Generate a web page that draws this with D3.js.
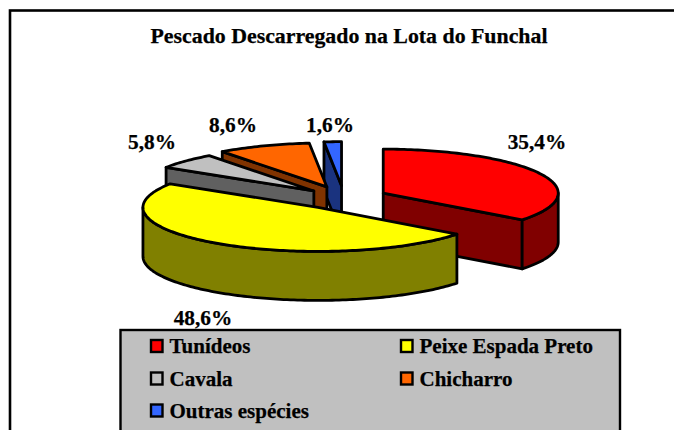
<!DOCTYPE html>
<html><head><meta charset="utf-8">
<script src="https://cdn.jsdelivr.net/npm/d3@7"></script>
<style>html,body{margin:0;padding:0;background:#fff}svg{display:block}text{font-family:"Liberation Serif",serif;font-weight:bold;fill:#000;stroke:#000;stroke-width:.25}</style>
</head><body><script>
const categories=["Tunídeos","Peixe Espada Preto","Cavala","Chicharro","Outras espécies"];
const values=[35.4,48.6,5.8,8.6,1.6];
const valueLabels=["35,4%","48,6%","5,8%","8,6%","1,6%"];
const topColors=["#ff0000","#ffff00","#c0c0c0","#ff6600","#3366ff"];
const sideColors=["#800000","#808000","#606060","#803300","#1a337f"];
const explosions=[0.25,0.26,0.235,0.27,0.28];
const titleText="Pescado Descarregado na Lota do Funchal";

const W=674,H=430;
const cx=344,cy=198,rx=175,ry=44,depth=49;
const svg=d3.select("body").append("svg").attr("width",W).attr("height",H);
// frame
svg.append("rect").attr("x",10).attr("y",10.5).attr("width",W+20).attr("height",H+20).attr("fill","#fff").attr("stroke","#000").attr("stroke-width",2.6);
svg.append("text").attr("x",349).attr("y",43).attr("text-anchor","middle").attr("font-size",22).attr("textLength",397).attr("lengthAdjust","spacingAndGlyphs").text(titleText);

const arcs=d3.pie().sort(null).value(d=>d)(values);
const sx=d3.scaleLinear().domain([-1,1]).range([-rx,rx]);
const sy=d3.scaleLinear().domain([-1,1]).range([ry,-ry]);
const line=d3.line();
function pt(c,a,dy=0){return [c[0]+sx(Math.sin(a)),c[1]+sy(Math.cos(a))+dy];}
function arcPts(c,a0,a1,dy=0){const n=Math.max(2,Math.ceil((a1-a0)/0.02));return d3.range(n+1).map(i=>pt(c,a0+(a1-a0)*i/n,dy));}
const centres=arcs.map((d,i)=>{const m=(d.startAngle+d.endAngle)/2;return [cx+explosions[i]*sx(Math.sin(m)),cy+explosions[i]*sy(Math.cos(m))];});
const g=svg.append("g").attr("stroke","#000").attr("stroke-width",2.8).attr("stroke-linejoin","round");
const order=[4,3,2,0,1];
order.forEach(i=>{
  const d=arcs[i],c=centres[i],a0=d.startAngle,a1=d.endAngle;
  const side=sideColors[i];
  function radial(a){const p=pt(c,a);
    g.append("path").attr("fill",side).attr("d",line([c,p,[p[0],p[1]+depth],[c[0],c[1]+depth]])+"Z");}
  // radial faces that look toward the viewer
  if(i===0||i===2||i===3||i===4)radial(i===0?a1:a0);
  // outer wall
  const f0=Math.max(a0,Math.PI/2),f1=Math.min(a1,Math.PI*1.5);
  if(f1>f0)g.append("path").attr("fill",side).attr("d",line(arcPts(c,f0,f1).concat(arcPts(c,f0,f1,depth).reverse()))+"Z");
  // top
  g.append("path").attr("fill",topColors[i]).attr("d",line([c].concat(arcPts(c,a0,a1)))+"Z");
});
// value labels
const labelAnchors=[[537,149],[203,325],[152,149],[233,132],[330,132]];
svg.selectAll("text.v").data(valueLabels).join("text").attr("class","v").attr("text-anchor","middle").attr("font-size",21.3)
  .attr("x",(d,i)=>labelAnchors[i][0]).attr("y",(d,i)=>labelAnchors[i][1]).text(d=>d);
// legend
svg.append("rect").attr("x",120.5).attr("y",330).attr("width",499.5).attr("height",120).attr("fill","#c0c0c0").attr("stroke","#000").attr("stroke-width",2.4);
const legX=[151,401],legY=[346,378.5,410.5];
categories.forEach((c,i)=>{
  const x=legX[i%2],y=legY[Math.floor(i/2)];
  svg.append("rect").attr("x",x).attr("y",y-6).attr("width",11.5).attr("height",12).attr("fill",topColors[i]).attr("stroke","#000").attr("stroke-width",2.4);
  svg.append("text").attr("x",x+18.5).attr("y",y+7).attr("font-size",21).text(c);
});
</script></body></html>
